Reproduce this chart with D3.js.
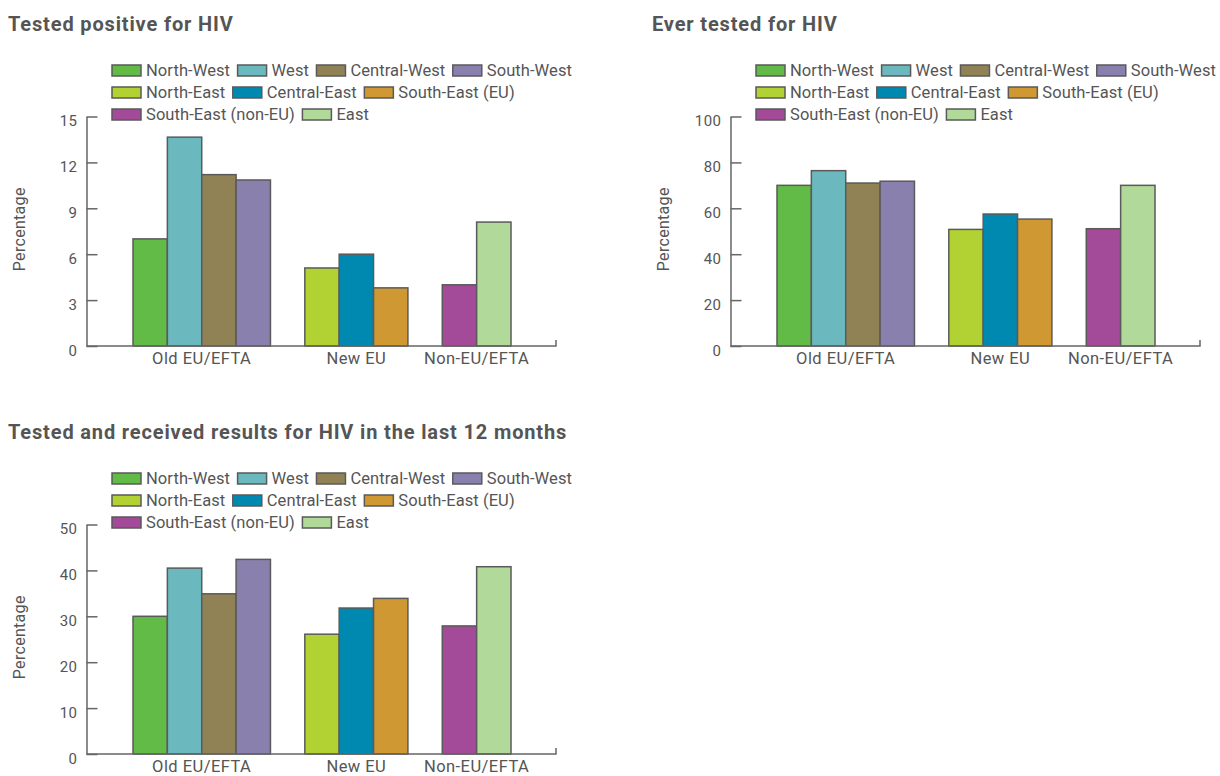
<!DOCTYPE html>
<html>
<head>
<meta charset="utf-8">
<script src="https://cdn.jsdelivr.net/npm/d3@7"></script>
<style>
  html, body { margin: 0; padding: 0; background: #fff; }
  svg { display: block; }
  text { font-family: Roboto, "Open Sans", sans-serif; }
</style>
</head>
<body>
<svg id="chart" width="1220" height="776"></svg>
<script>
// ---------- DATA ----------
const seriesNames = ["North-West", "West", "Central-West", "South-West", "North-East", "Central-East", "South-East (EU)", "South-East (non-EU)", "East"];
const seriesColors = ["#62bb46", "#6bb9be", "#918255", "#8980ad", "#b2d234", "#0089b0", "#cf9833", "#a34a98", "#b0d99a"];
const groupNames = ["Old EU/EFTA", "New EU", "Non-EU/EFTA"];
const seriesGroup = [0, 0, 0, 0, 1, 1, 1, 2, 2];

const positiveValues = [7.0, 13.65, 11.2, 10.85, 5.1, 6.0, 3.8, 4.0, 8.1];
const everTestedValues = [70, 76.4, 71, 71.8, 50.8, 57.5, 55.3, 51.1, 70];
const last12Values = [30, 40.5, 34.9, 42.4, 26.1, 31.8, 33.9, 27.9, 40.8];

const positiveTicks = [0, 3, 6, 9, 12, 15];
const everTestedTicks = [0, 20, 40, 60, 80, 100];
const last12Ticks = [0, 10, 20, 30, 40, 50];

const chartTitles = ["Tested positive for HIV", "Ever tested for HIV", "Tested and received results for HIV in the last 12 months"];
const yAxisLabel = "Percentage";

// ---------- DRAW ----------
const svg = d3.select("#chart");
const textColor = "#555";
const axisColor = "#666";

// slot index: bars in order, one empty slot between groups
const slots = seriesNames.map((s, i) => i + seriesGroup[i]);
const nSlots = d3.max(slots) + 1;

function drawChart(ox, oy, title, values, ticks) {
  const g = svg.append("g").attr("transform", `translate(${ox},${oy})`);

  const axisX = 86.5;
  const axisEnd = 556;
  const yTop = 116.5, yBottom = 346;

  const x = d3.scaleBand().domain(d3.range(nSlots)).range([133, 511]).paddingInner(0).paddingOuter(0);
  const y = d3.scaleLinear().domain([0, d3.max(ticks)]).range([yBottom, yTop]);

  // title
  g.append("text")
    .attr("x", 8).attr("y", 31)
    .attr("font-size", 20).attr("font-weight", 700)
    .attr("letter-spacing", 0.85)
    .attr("fill", textColor)
    .text(title);

  // legend
  const rows = [[0, 1, 2, 3], [4, 5, 6], [7, 8]];
  const rowY = [70.5, 92.5, 114.5];
  rows.forEach((row, ri) => {
    let cx = 112;
    row.forEach(si => {
      g.append("rect")
        .attr("x", cx).attr("y", rowY[ri] - 5.5)
        .attr("width", 29).attr("height", 11)
        .attr("fill", seriesColors[si])
        .attr("stroke", "#5a5a5a").attr("stroke-width", 1.5);
      const t = g.append("text")
        .attr("x", cx + 34).attr("y", rowY[ri])
        .attr("dy", "0.36em")
        .attr("font-size", 16.5)
        .attr("letter-spacing", 0.08)
        .attr("fill", textColor)
        .text(seriesNames[si]);
      cx = cx + 34 + t.node().getComputedTextLength() + 7.5;
    });
  });

  // bars
  g.append("g").selectAll("rect")
    .data(values.map((v, i) => ({ v, i })))
    .join("rect")
    .attr("x", d => x(slots[d.i]))
    .attr("y", d => y(d.v))
    .attr("width", x.bandwidth())
    .attr("height", d => y(0) - y(d.v))
    .attr("fill", d => seriesColors[d.i])
    .attr("stroke", "#5a5a5a")
    .attr("stroke-width", 1.5);

  // y axis
  const yAxis = d3.axisLeft(y).tickValues(ticks).tickSizeInner(-11).tickSizeOuter(0).tickPadding(9);
  const ya = g.append("g").attr("transform", `translate(${axisX},0)`).call(yAxis);
  ya.select(".domain").attr("stroke", axisColor).attr("stroke-width", 1.5);
  ya.selectAll(".tick line").attr("stroke", axisColor).attr("stroke-width", 1.5);
  ya.selectAll(".tick text")
    .attr("font-size", 15).attr("fill", textColor)
    .attr("font-family", "Roboto, sans-serif")
    .attr("letter-spacing", 0.5)
    .attr("dy", "0.62em");

  // x axis line with end tick
  g.append("path")
    .attr("d", `M${axisX},${yBottom}H${axisEnd}V${yBottom - 6}`)
    .attr("fill", "none")
    .attr("stroke", axisColor).attr("stroke-width", 1.5);

  // group labels
  groupNames.forEach((gn, gi) => {
    const idx = slots.filter((s, i) => seriesGroup[i] === gi);
    const x0 = x(d3.min(idx));
    const x1 = x(d3.max(idx)) + x.bandwidth();
    g.append("text")
      .attr("x", (x0 + x1) / 2).attr("y", 364)
      .attr("text-anchor", "middle")
      .attr("font-size", 16.5)
      .attr("letter-spacing", 0.45)
      .attr("fill", textColor)
      .text(gn);
  });

  // y label
  g.append("text")
    .attr("transform", `translate(25,${(yTop + yBottom) / 2 - 2}) rotate(-90)`)
    .attr("text-anchor", "middle")
    .attr("font-size", 16)
    .attr("letter-spacing", 0.3)
    .attr("fill", textColor)
    .text(yAxisLabel);
}

drawChart(0, 0, chartTitles[0], positiveValues, positiveTicks);
drawChart(644, 0, chartTitles[1], everTestedValues, everTestedTicks);
drawChart(0, 408, chartTitles[2], last12Values, last12Ticks);
</script>
</body>
</html>
